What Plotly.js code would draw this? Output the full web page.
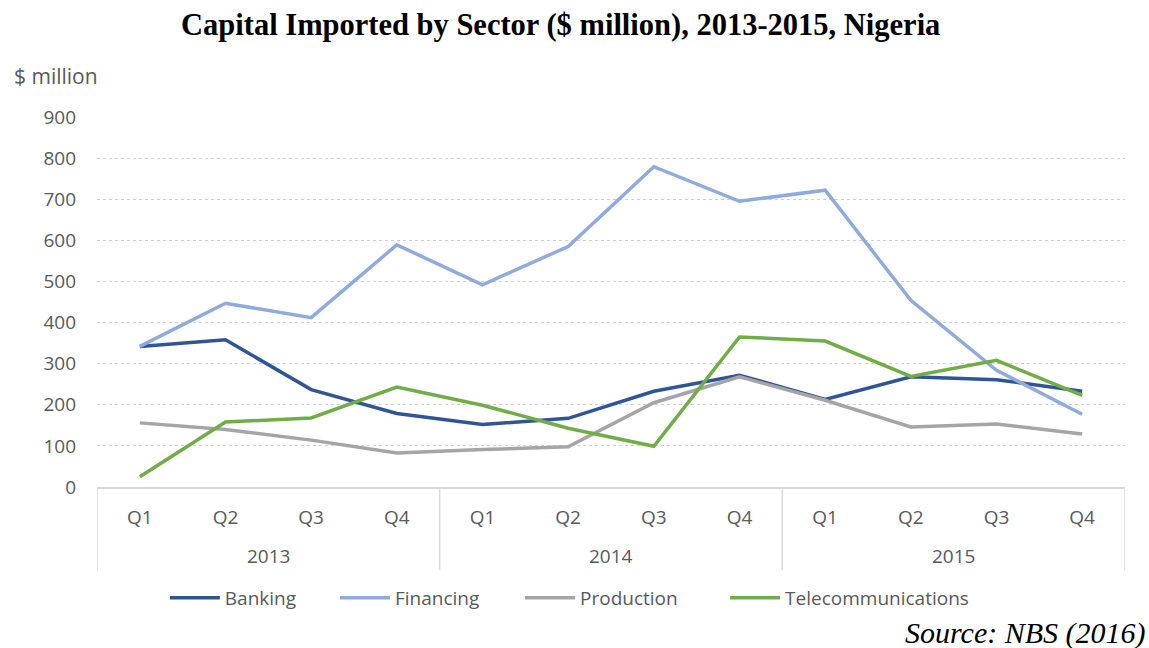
<!DOCTYPE html>
<html>
<head>
<meta charset="utf-8">
<script src="https://cdn.plot.ly/plotly-3.0.1.min.js"></script>
<style>html,body{margin:0;padding:0;background:#fff;}#chart{width:1149px;height:648px;}</style>
</head>
<body>
<div id="chart"></div>
<script>
const years = ["2013","2013","2013","2013","2014","2014","2014","2014","2015","2015","2015","2015"];
const quarters = ["Q1","Q2","Q3","Q4","Q1","Q2","Q3","Q4","Q1","Q2","Q3","Q4"];
const banking = [342, 358, 237, 179, 152, 167, 233, 272, 213, 268, 261, 233];
const financing = [342, 447, 412, 589, 492, 585, 779, 695, 722, 454, 284, 177];
const production = [156, 140, 114, 83, 91, 98, 205, 268, 211, 146, 153, 129];
const telecom = [25, 158, 168, 243, 199, 143, 99, 365, 355, 269, 308, 223];
const seriesNames = ["Banking", "Financing", "Production", "Telecommunications"];
const colors = ["#2f5597", "#8faadc", "#a5a5a5", "#70ad47"];
const values = [banking, financing, production, telecom];

const font = "'Open Sans', Lato, sans-serif";
const serif = "'Liberation Serif', 'Times New Roman', serif";
const gray = "#595959";
const idx = quarters.map((_, i) => i);
const legendIds = ["legend", "legend2", "legend3", "legend4"];
const legendX = [0.066, 0.2315, 0.4115, 0.611];

const traces = values.map((v, i) => ({
  type: "scatter", mode: "lines",
  x: idx, y: v, name: seriesNames[i], legend: legendIds[i],
  line: {color: colors[i], width: 3.5}
}));

const uniqYears = [...new Set(years)];
const groupCentres = uniqYears.map(y => {
  const ii = idx.filter(i => years[i] === y);
  return (ii[0] + ii[ii.length - 1]) / 2;
});
const boundaries = [-0.5];
uniqYears.forEach(y => {
  const ii = idx.filter(i => years[i] === y);
  boundaries.push(ii[ii.length - 1] + 0.5);
});

const annotations = uniqYears.map((y, k) => ({
  text: y, xref: "x", yref: "paper", x: groupCentres[k], y: -0.186,
  xanchor: "center", yanchor: "middle", showarrow: false,
  font: {family: font, size: 19, color: gray}
}));
annotations.push(
  {text: "$ million", xref: "paper", yref: "paper", x: -0.083, y: 1.11, xanchor: "left", yanchor: "middle",
   showarrow: false, font: {family: font, size: 21, color: gray}},
  {text: "<i>Source: NBS (2016)</i>", xref: "paper", yref: "paper", x: 1.022, y: -0.395,
   xanchor: "right", yanchor: "middle", showarrow: false,
   font: {family: serif, size: 30, color: "#000"}}
);

const shapes = boundaries.map(b => ({
  type: "line", xref: "x", yref: "paper", x0: b, x1: b, y0: 0, y1: -0.224,
  line: {color: "#d9d9d9", width: 1.5}
}));

const layout = {
  width: 1149, height: 648,
  margin: {l: 97, r: 24, t: 117, b: 161},
  paper_bgcolor: "#fff", plot_bgcolor: "#fff",
  title: {text: "<b>Capital Imported by Sector ($ million), 2013-2015, Nigeria</b>",
          font: {family: serif, size: 30.5, color: "#000"},
          x: 0.488, xanchor: "center", y: 0.963, yanchor: "middle"},
  xaxis: {range: [-0.5, quarters.length - 0.5], tickvals: idx, ticktext: quarters,
          showline: true, linecolor: "#d9d9d9", linewidth: 1.5,
          showgrid: false, zeroline: false, ticks: "", ticklabelstandoff: 12,
          tickfont: {family: font, size: 19, color: gray}},
  yaxis: {range: [0, 900], dtick: 100, showgrid: true, gridcolor: "#d0d0d0", griddash: "dot",
          gridwidth: 1.2, zeroline: false, showline: false, ticks: "",
          ticklabelstandoff: 20,
          tickfont: {family: font, size: 19, color: gray}},
  showlegend: true,
  annotations: annotations,
  shapes: shapes
};
legendIds.forEach((id, i) => {
  layout[id] = {orientation: "h", x: legendX[i], xanchor: "left", y: -0.30, yanchor: "middle",
                itemwidth: 50, bgcolor: "rgba(0,0,0,0)",
                font: {family: font, size: 19, color: gray}};
});

Plotly.newPlot("chart", traces, layout, {displayModeBar: false, responsive: false});
</script>
</body>
</html>
